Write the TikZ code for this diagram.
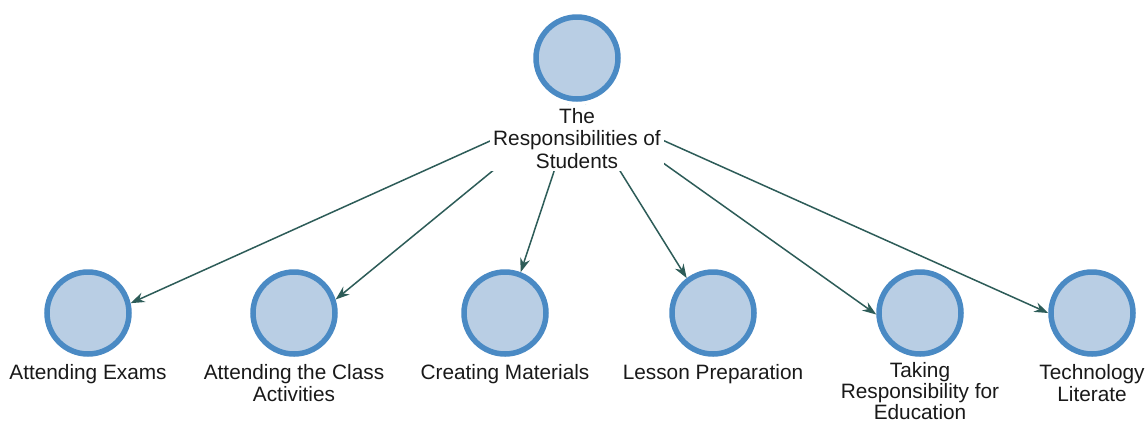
\documentclass[tikz,border=0pt]{standalone}
\usepackage{fontspec}
\setmainfont{Liberation Sans}
\usetikzlibrary{arrows.meta}
\definecolor{nodefill}{RGB}{185,206,228}
\definecolor{nodeline}{RGB}{74,138,196}
\definecolor{edgecol}{RGB}{45,92,88}
\begin{document}
\begin{tikzpicture}[x=1pt,y=-1pt,
  topic/.style={circle, draw=nodeline, fill=nodefill, line width=5.5pt, minimum size=82pt, inner sep=0pt},
  lbl/.style={font=\fontsize{20.8}{22.5}\selectfont, align=center, inner sep=0pt, anchor=north, text=black!90},
  toplbl/.style={lbl, fill=white, inner sep=3pt},
  link/.style={draw=edgecol, line width=1.5pt, shorten <=9pt, -{Stealth[length=14pt,width=10pt]}}]
\useasboundingbox[fill=white] (0,0) rectangle (1148,424);
\node[topic] (root) at (577,58) {};
\node[topic] (c1) at (88,313) {};
\node[topic] (c2) at (294,313) {};
\node[topic] (c3) at (505,313) {};
\node[topic] (c4) at (713,313) {};
\node[topic] (c5) at (920,313) {};
\node[topic] (c6) at (1092,313) {};
\draw[link] (root.south) -- (c1.13);
\draw[link] (root.south) -- (c2.18);
\draw[link] (root.south) -- (c3.69);
\draw[link] (root.south) -- (c4.127);
\draw[link] (root.south) -- (c5.182);
\draw[link] (root.south) -- (c6.180);
\node[toplbl] (rootlbl) at (577,105) {The\\Responsibilities of\\Students};
\node[lbl] (l1) at (88,364) {Attending Exams};
\node[lbl] (l2) at (294,364) {Attending the Class\\Activities};
\node[lbl] (l3) at (505,364) {Creating Materials};
\node[lbl] (l4) at (713,364) {Lesson Preparation};
\node[lbl, font=\fontsize{20.8}{21}\selectfont] (l5) at (920,362) {Taking\\Responsibility for\\Education};
\node[lbl] (l6) at (1092,364) {Technology\\Literate};
\end{tikzpicture}
\end{document}
